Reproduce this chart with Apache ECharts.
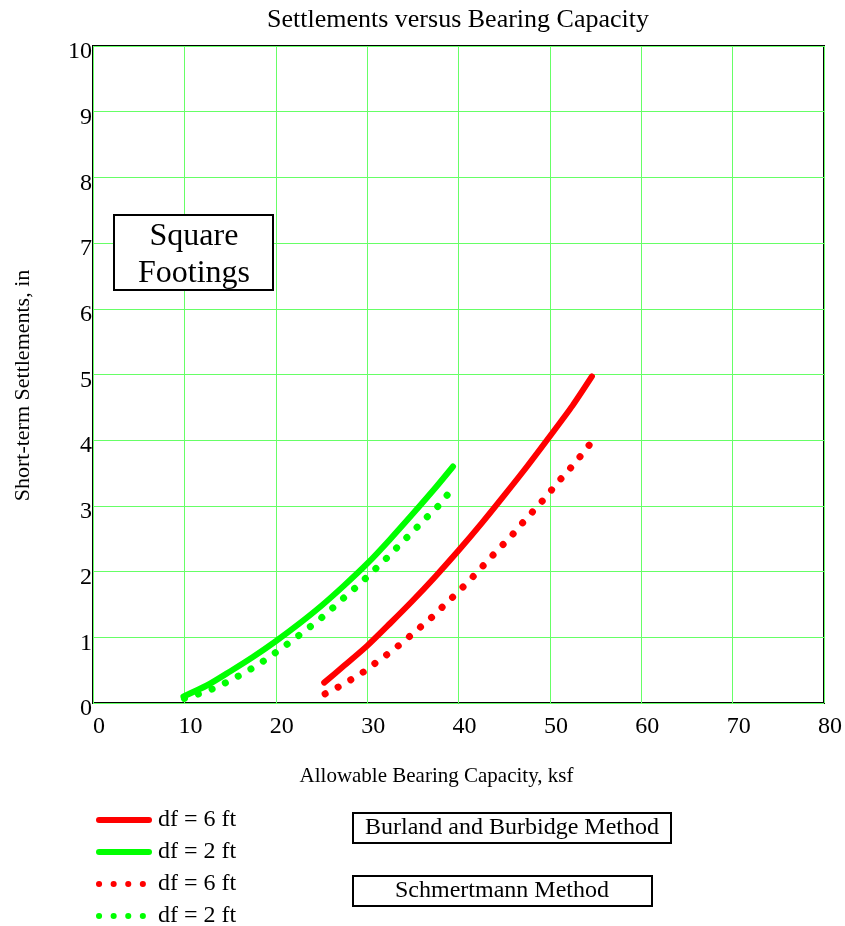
<!DOCTYPE html>
<html>
<head>
<meta charset="utf-8">
<script src="https://cdn.jsdelivr.net/npm/echarts@6/dist/echarts.min.js"></script>
<style>html,body{margin:0;padding:0;background:#fff}#c{width:845px;height:926px}</style>
</head>
<body>
<div id="c"></div>
<script>
// Data (x = allowable bearing capacity, ksf; y = settlement, in)
// Burland and Burbidge method
const burlandDf6 = [[25.3,0.31],[27.5,0.57],[30,0.87],[32.5,1.21],[35,1.56],[37.5,1.93],[40,2.32],[42.5,2.73],[45,3.16],[47.5,3.60],[50,4.06],[52.5,4.53],[54.6,4.97]];
const burlandDf2 = [[9.9,0.10],[12.5,0.27],[15,0.48],[17.5,0.70],[20,0.94],[22.5,1.20],[25,1.48],[27.5,1.79],[30,2.12],[32.5,2.49],[35,2.88],[37.5,3.28],[39.4,3.60]];
// Schmertmann method
const schmertDf6 = [[25.4,0.14],[26.8,0.24],[28.3,0.36],[29.8,0.49],[31.2,0.64],[32.7,0.79],[34.2,0.96],[35.7,1.14],[37.2,1.32],[38.6,1.51],[40.1,1.71],[41.5,1.91],[42.9,2.12],[44.3,2.33],[45.7,2.53],[47.0,2.74],[48.3,2.94],[49.6,3.14],[50.8,3.35],[52.1,3.55],[53.3,3.75],[54.5,3.96]];
const schmertDf2 = [[10.0,0.07],[11.4,0.13],[13.0,0.21],[14.4,0.30],[15.9,0.41],[17.3,0.52],[18.9,0.66],[20.3,0.80],[21.8,0.95],[23.2,1.10],[24.7,1.26],[26.1,1.43],[27.6,1.62],[29.1,1.80],[30.6,2.00],[32.1,2.20],[33.5,2.40],[35.0,2.61],[36.4,2.81],[37.8,3.00],[39.1,3.22]];
const xTicks = [0,10,20,30,40,50,60,70,80];
const yTicks = [0,1,2,3,4,5,6,7,8,9,10];
const legendLabels = {s1:'df = 6 ft', s2:'df = 2 ft', s3:'df = 6 ft', s4:'df = 2 ft'};

const FONT = 'Liberation Serif';
const chart = echarts.init(document.getElementById('c'));
const dot = [0.1, 14.5];
function mk(name, data, color, dotted){
  return {
    name, type:'line', data, smooth: dotted ? false : 0.25, symbol:'none',
    lineStyle:{color, width: dotted?7:6, type: dotted?dot:'solid', cap:'round', join:'round'},
    itemStyle:{color}
  };
}
chart.setOption({
  animation:false,
  backgroundColor:'#fff',
  title:{text:'Settlements versus Bearing Capacity', left:262, top:2,
    textStyle:{fontFamily:FONT, fontSize:26, fontWeight:'normal', color:'#000'}},
  grid:{left:93, top:46, right:21, bottom:223, show:true, borderColor:'#000', borderWidth:2},
  xAxis:{type:'value', min:xTicks[0], max:xTicks[xTicks.length-1], interval:10,
    name:'Allowable Bearing Capacity, ksf', nameLocation:'middle', nameGap:63,
    nameTextStyle:{fontFamily:FONT, fontSize:21, color:'#000', padding:[0,44,0,0]},
    axisLine:{show:false}, axisTick:{show:false},
    axisLabel:{fontFamily:FONT, fontSize:24, color:'#000', margin:12, padding:[0,0,0,12]},
    splitLine:{show:true, lineStyle:{color:'#66ff66', width:1}}},
  yAxis:{type:'value', min:yTicks[0], max:yTicks[yTicks.length-1], interval:1,
    name:'Short-term Settlements, in', nameLocation:'middle', nameGap:59,
    nameTextStyle:{fontFamily:FONT, fontSize:22, color:'#000', padding:[0,22,0,0]},
    axisLine:{show:false}, axisTick:{show:false},
    axisLabel:{fontFamily:FONT, fontSize:24, color:'#000', margin:1, verticalAlign:'top', lineHeight:12},
    splitLine:{show:true, lineStyle:{color:'#66ff66', width:1}}},
  legend:{orient:'vertical', left:96, top:808, height:140, padding:0,
    itemWidth:50, itemHeight:14, itemGap:8,
    data:['s1','s2','s3','s4'],
    formatter: n => legendLabels[n],
    lineStyle:{width:6},
    itemStyle:{opacity:0},
    textStyle:{fontFamily:FONT, fontSize:24, lineHeight:24, color:'#000', padding:[0,0,0,4]}},
  series:[
    mk('s1', burlandDf6, '#ff0000', false),
    mk('s2', burlandDf2, '#00ff00', false),
    mk('s3', schmertDf6, '#ff0000', true),
    mk('s4', schmertDf2, '#00ff00', true)
  ],
  graphic:[
    {type:'group', left:113, top:214, z:100, children:[
      {type:'rect', z:100, shape:{x:0,y:0,width:159,height:75}, style:{fill:'#fff', stroke:'#000', lineWidth:2}},
      {type:'text', z:101, x:80, y:22, style:{text:'Square', font:'32px "Liberation Serif"', fill:'#000', align:'center', verticalAlign:'middle'}},
      {type:'text', z:101, x:80, y:59, style:{text:'Footings', font:'32px "Liberation Serif"', fill:'#000', align:'center', verticalAlign:'middle'}}
    ]},
    {type:'group', left:352, top:812, children:[
      {type:'rect', shape:{x:0,y:0,width:318,height:30}, style:{fill:'#fff', stroke:'#000', lineWidth:2}},
      {type:'text', x:159, y:15, style:{text:'Burland and Burbidge Method', font:'24px "Liberation Serif"', fill:'#000', align:'center', verticalAlign:'middle'}}
    ]},
    {type:'group', left:352, top:875, children:[
      {type:'rect', shape:{x:0,y:0,width:299,height:30}, style:{fill:'#fff', stroke:'#000', lineWidth:2}},
      {type:'text', x:149, y:15, style:{text:'Schmertmann Method', font:'24px "Liberation Serif"', fill:'#000', align:'center', verticalAlign:'middle'}}
    ]}
  ]
});
</script>
</body>
</html>
